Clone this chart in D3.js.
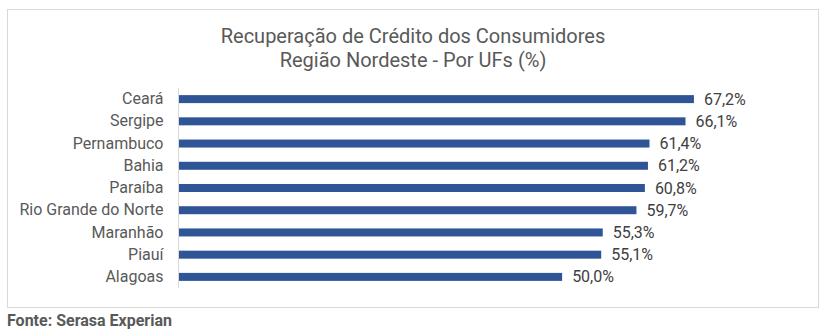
<!DOCTYPE html>
<html><head><meta charset="utf-8">
<script src="https://cdn.jsdelivr.net/npm/d3@7"></script>
<style>body{margin:0;background:#fff;}svg{display:block;font-family:Roboto,"Noto Sans",sans-serif;}</style>
</head><body>
<svg id="c" width="825" height="336"></svg>
<script>
const categories = ["Ceará","Sergipe","Pernambuco","Bahia","Paraíba","Rio Grande do Norte","Maranhão","Piauí","Alagoas"];
const values = [67.2,66.1,61.4,61.2,60.8,59.7,55.3,55.1,50.0];
const titleLines = ["Recuperação de Crédito dos Consumidores","Região Nordeste - Por UFs (%)"];
const sourceText = "Fonte: Serasa Experian";

const svg = d3.select("#c");
svg.append("rect").attr("x",7.5).attr("y",9.5).attr("width",811).attr("height",298)
  .attr("fill","#fff").attr("stroke","#d9d9d9").attr("stroke-width",1);

svg.selectAll("text.title").data(titleLines).join("text").attr("class","title")
  .attr("x",413).attr("y",(d,i)=>43+i*24).attr("text-anchor","middle")
  .attr("font-size",20).attr("fill","#595959").text(d=>d);

const x = d3.scaleLinear().domain([0,80]).range([179,792]);
const y = d3.scaleBand().domain(categories).range([88,288]).paddingInner(0.64).paddingOuter(0.32);

svg.selectAll("rect.bar").data(values).join("rect").attr("class","bar")
  .attr("x",x(0)).attr("y",(d,i)=>y(categories[i]))
  .attr("width",d=>x(d)-x(0)).attr("height",y.bandwidth())
  .attr("fill","#2f5597");

const yAxis = svg.append("g").attr("transform",`translate(${x(0)-0.5},0)`)
  .call(d3.axisLeft(y).tickSize(0).tickPadding(15));
yAxis.select(".domain").attr("stroke","#d9d9d9").attr("d","M0,88V288");
yAxis.selectAll("text").attr("font-size",16).attr("fill","#595959").attr("font-family","Roboto");

svg.selectAll("text.val").data(values).join("text").attr("class","val")
  .attr("x",d=>x(d)+10).attr("y",(d,i)=>y(categories[i])+y.bandwidth()/2).attr("dy","0.35em")
  .attr("font-size",16).attr("fill","#404040")
  .text(d=>d3.format(".1f")(d).replace(".",",")+"%");

svg.append("text").attr("x",7).attr("y",326).attr("font-size",16).attr("font-weight","bold")
  .attr("fill","#595959").text(sourceText);
</script>
</body></html>
